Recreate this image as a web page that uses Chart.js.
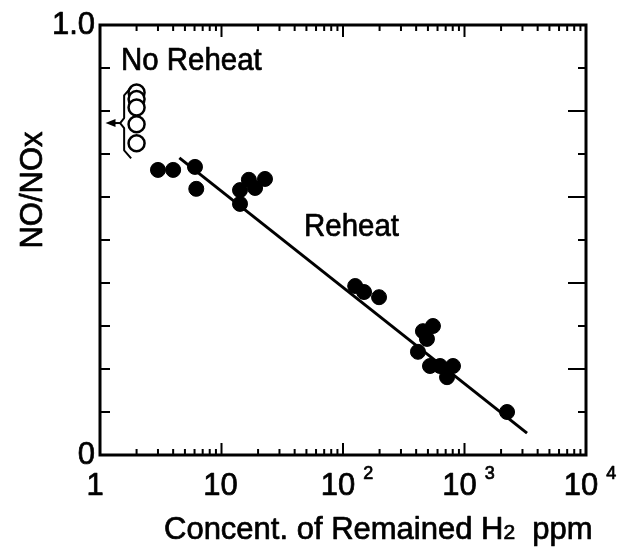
<!DOCTYPE html>
<html lang="en">
<head>
    <meta charset="UTF-8">
    <title>NO/NOx vs remained H2</title>
    <script src="https://cdn.jsdelivr.net/npm/chart.js"></script>
    <style>
        html, body { margin: 0; padding: 0; background: #fff; }
        #wrap { width: 624px; height: 551px; }
    </style>
</head>
<body>
    <div id="wrap"><canvas id="chart" width="624" height="551"></canvas></div>

    <script>
        // Reheat runs (filled dots)
        const reheatH2 = [3.0, 4.0, 6.05, 6.2, 14.2, 14.2, 16.8, 18.9, 22.8, 126, 149, 198, 414, 455, 491, 550, 520, 629, 718, 804, 2240];
        const reheatRatio = [0.663, 0.663, 0.670, 0.619, 0.616, 0.584, 0.640, 0.621, 0.642, 0.393, 0.379, 0.367, 0.240, 0.288, 0.270, 0.300, 0.207, 0.207, 0.181, 0.207, 0.100];

        // No reheat runs (open circles)
        const noReheatH2 = [2.0, 2.0, 2.0, 2.0, 2.0];
        const noReheatRatio = [0.843, 0.828, 0.808, 0.769, 0.725];

        // Fitted line ends
        const fitH2 = [4.5, 3270];
        const fitRatio = [0.691, 0.051];

        // Axis ticks
        const xDecades = [1, 10, 100, 1000, 10000];
        const yTicks = [0, 0.1, 0.2, 0.3, 0.4, 0.5, 0.6, 0.7, 0.8, 0.9, 1.0];
        const yLabels = { 0: '0', 10: '1.0' };

        // Bracket + arrow marking the no-reheat group
        const bracketX = 1.58, bracketTop = 0.855, bracketBottom = 0.69;
        const arrowY = 0.772, arrowTipX = 1.11;

        const FONT = '"Liberation Sans", Arial, Helvetica, sans-serif';

        const toXY = (xs, ys) => xs.map((x, i) => ({ x: x, y: ys[i] }));

        // scanned print looks heavier than plain Liberation Sans
        function ink(ctx, text, x, y) {
            ctx.fillText(text, x, y);
            ctx.strokeText(text, x, y);
        }

        // slightly condensed text for the in-plot labels
        function inkNarrow(ctx, text, x, y) {
            ctx.save();
            ctx.translate(x, y);
            ctx.scale(0.92, 1);
            ink(ctx, text, 0, 0);
            ctx.restore();
        }

        // frame, inward ticks, labels and annotations
        const decor = {
            id: 'decor',
            afterDraw(chart) {
                const ctx = chart.ctx;
                const xs = chart.scales.x, ys = chart.scales.y;
                const a = chart.chartArea;
                ctx.save();
                ctx.strokeStyle = '#000';
                ctx.fillStyle = '#000';

                // frame
                ctx.lineWidth = 3;
                ctx.strokeRect(a.left, a.top, a.right - a.left, a.bottom - a.top);

                // log ticks on bottom and top
                ctx.lineWidth = 2;
                ctx.beginPath();
                for (let d = 0; d < xDecades.length - 1; d++) {
                    for (let m = 1; m <= 10; m++) {
                        const px = xs.getPixelForValue(xDecades[d] * m);
                        const len = (m === 1 || m === 10) ? 12 : 6;
                        ctx.moveTo(px, a.bottom); ctx.lineTo(px, a.bottom - len);
                        ctx.moveTo(px, a.top); ctx.lineTo(px, a.top + len);
                    }
                }
                // y ticks left and right
                yTicks.forEach((v, i) => {
                    const py = ys.getPixelForValue(v);
                    ctx.moveTo(a.left, py); ctx.lineTo(a.left + 10, py);
                    const len = i % 2 === 0 ? 18 : 8;
                    ctx.moveTo(a.right, py); ctx.lineTo(a.right - len, py);
                });
                ctx.stroke();

                ctx.lineWidth = 0.7;
                ctx.lineJoin = 'round';

                // y tick labels
                ctx.font = '31px ' + FONT;
                ctx.textAlign = 'right';
                ctx.textBaseline = 'middle';
                yTicks.forEach((v, i) => {
                    if (yLabels[i] !== undefined) ink(ctx, yLabels[i], a.left - 5, ys.getPixelForValue(v));
                });

                // x tick labels with exponents
                ctx.textBaseline = 'alphabetic';
                xDecades.forEach((v, i) => {
                    const px = xs.getPixelForValue(v);
                    ctx.font = '31px ' + FONT;
                    ctx.textAlign = 'center';
                    if (i === 0) {
                        ink(ctx, '1', px - 5, 495);
                    } else if (i === 1) {
                        ink(ctx, '10', px - 1, 495);
                    } else {
                        const w = ctx.measureText('10').width;
                        ink(ctx, '10', px - 5, 495);
                        ctx.font = '18px ' + FONT;
                        ctx.textAlign = 'left';
                        ink(ctx, String(i), px - 5 + w / 2 + 8, 479);
                    }
                });

                // x axis title with subscript-sized 2
                ctx.textAlign = 'left';
                let tx = 164;
                const parts = [['Concent. of Remained H', 31], ['2', 21], ['  ppm', 31]];
                parts.forEach(p => {
                    ctx.font = p[1] + 'px ' + FONT;
                    ink(ctx, p[0], tx, 539);
                    tx += ctx.measureText(p[0]).width;
                });

                // y axis title
                ctx.save();
                ctx.translate(42, 190);
                ctx.rotate(-Math.PI / 2);
                ctx.font = '31px ' + FONT;
                ctx.textAlign = 'center';
                ink(ctx, 'NO/NOx', 0, 0);
                ctx.restore();

                // annotations
                ctx.font = '32px ' + FONT;
                ctx.textAlign = 'left';
                inkNarrow(ctx, 'No Reheat', 121, 70);
                inkNarrow(ctx, 'Reheat', 304, 236);

                // bracket
                const bx = xs.getPixelForValue(bracketX);
                const bt = ys.getPixelForValue(bracketTop);
                const bb = ys.getPixelForValue(bracketBottom);
                const ay = ys.getPixelForValue(arrowY);
                ctx.lineWidth = 2;
                ctx.beginPath();
                ctx.moveTo(bx + 7, bt);
                ctx.lineTo(bx, bt + 8);
                ctx.lineTo(bx, ay - 5);
                ctx.lineTo(bx - 4, ay);
                ctx.lineTo(bx, ay + 5);
                ctx.lineTo(bx, bb - 8);
                ctx.lineTo(bx + 7, bb);
                ctx.stroke();

                // arrow
                const tip = xs.getPixelForValue(arrowTipX);
                ctx.beginPath();
                ctx.moveTo(bx - 4, ay);
                ctx.lineTo(tip + 6, ay);
                ctx.stroke();
                ctx.beginPath();
                ctx.moveTo(tip, ay);
                ctx.lineTo(tip + 10, ay - 4);
                ctx.lineTo(tip + 10, ay + 4);
                ctx.closePath();
                ctx.fill();

                ctx.restore();
            }
        };

        new Chart(document.getElementById('chart'), {
            type: 'scatter',
            data: {
                datasets: [
                    {
                        label: 'Fit',
                        data: toXY(fitH2, fitRatio),
                        showLine: true,
                        borderColor: '#000',
                        borderWidth: 3,
                        pointRadius: 0,
                        order: 3
                    },
                    {
                        label: 'Reheat',
                        data: toXY(reheatH2, reheatRatio),
                        pointRadius: 7.5,
                        pointBackgroundColor: '#000',
                        pointBorderColor: '#000',
                        pointBorderWidth: 1,
                        order: 2
                    },
                    {
                        label: 'No Reheat',
                        data: toXY(noReheatH2, noReheatRatio),
                        pointRadius: 8,
                        pointBackgroundColor: '#fff',
                        pointBorderColor: '#000',
                        pointBorderWidth: 2.5,
                        order: 1
                    }
                ]
            },
            options: {
                responsive: false,
                animation: false,
                layout: { padding: { left: 0, top: 25, right: 38, bottom: 0 } },
                plugins: {
                    legend: { display: false },
                    tooltip: { enabled: false }
                },
                scales: {
                    x: {
                        type: 'logarithmic',
                        min: 1,
                        max: 10000,
                        grid: { display: false, drawTicks: false },
                        border: { display: false },
                        ticks: { display: false },
                        afterFit: (s) => { s.height = 96; }
                    },
                    y: {
                        min: 0,
                        max: 1,
                        grid: { display: false, drawTicks: false },
                        border: { display: false },
                        ticks: { display: false, stepSize: 0.1 },
                        afterFit: (s) => { s.width = 100; }
                    }
                }
            },
            plugins: [decor]
        });
    </script>
</body>
</html>
